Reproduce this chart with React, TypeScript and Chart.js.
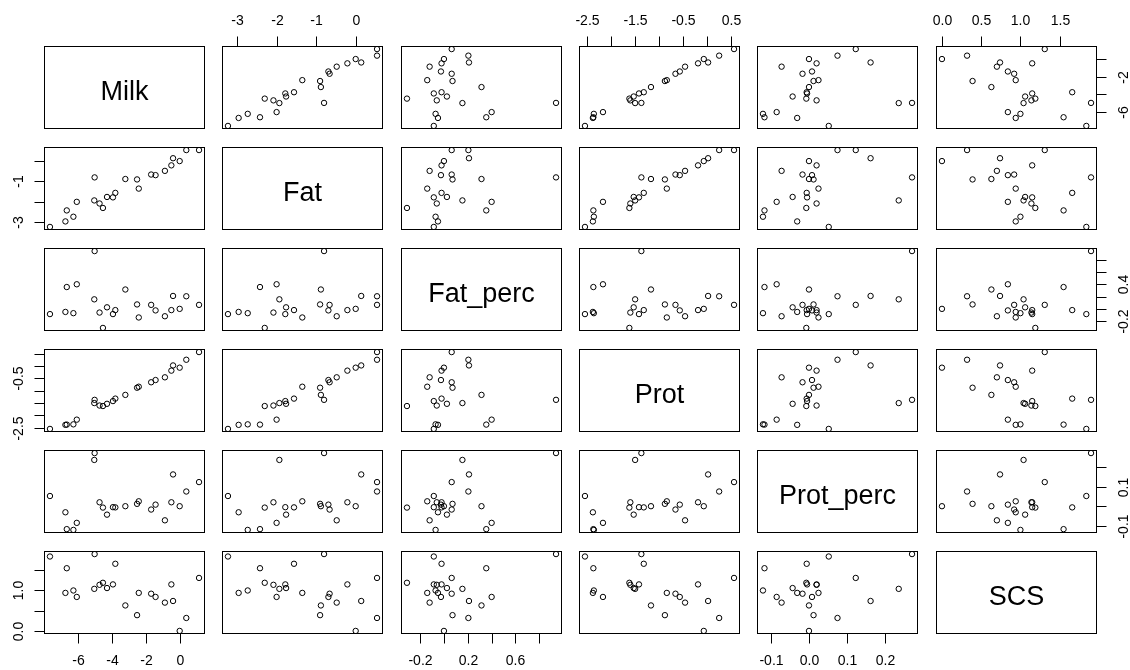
import React, { useEffect, useRef } from "react";
import { Chart, registerables } from "chart.js";

Chart.register(...registerables);

// ---- data (23 observations) ----
const varNames = ["Milk", "Fat", "Fat_perc", "Prot", "Prot_perc", "SCS"];

const milk = [-7.64, -5.01, -3.79, -6.65, 1.14, -6.73, -6.26, -6.06, -5.03, -4.72, -4.52, -4.28, -3.93, -3.2, -2.41, -2.51, -1.68, -1.42, -0.87, -0.49, -0.39, 0.39, 0.0];
const fat = [-3.23, -0.8, -1.56, -2.42, 0.54, -2.96, -2.73, -2.0, -1.93, -2.08, -2.3, -1.76, -1.78, -0.88, -1.35, -0.9, -0.66, -0.69, -0.48, -0.21, 0.14, 0.54, 0.0];
const fatPerc = [-0.085, 0.94, -0.02, 0.355, 0.065, -0.05, -0.07, 0.4, 0.155, -0.06, -0.31, 0.025, -0.085, 0.315, -0.14, 0.072, 0.065, -0.025, -0.12, -0.02, 0.21, 0.205, 0.0];
const prot = [-2.545, -1.37, -1.32, -2.37, 0.56, -2.38, -2.36, -2.17, -1.5, -1.6, -1.62, -1.53, -1.42, -1.17, -0.84, -0.88, -0.66, -0.57, -0.46, -0.19, 0.02, 0.25, -0.07];
const protPerc = [0.052, 0.271, -0.006, -0.117, 0.123, -0.031, -0.121, -0.085, 0.236, 0.02, -0.007, -0.043, -0.005, 0.0, 0.025, 0.012, -0.017, 0.008, -0.072, 0.02, 0.162, 0.075, 0.0];
const scs = [1.84, 1.9, 1.66, 1.55, 1.31, 0.94, 1.0, 0.84, 1.04, 1.14, 1.19, 1.06, 1.15, 0.63, 0.94, 0.39, 0.92, 0.84, 0.7, 1.15, 0.74, 0.32, 0.0];

// ---- tick values and labels ----
const milkTicks = [-6, -4, -2, 0];
const fatTicks = [-3, -2, -1, 0];
const fatPercTicks = [-0.2, 0, 0.2, 0.4, 0.6, 0.8];
const protTicks = [-2.5, -2, -1.5, -1, -0.5, 0, 0.5];
const protPercTicks = [-0.1, 0, 0.1, 0.2];
const scsTicks = [0, 0.5, 1, 1.5];

// labels on horizontal axes (top / bottom)
const milkLabelsH = ["-6", "-4", "-2", "0"];
const fatLabelsH = ["-3", "-2", "-1", "0"];
const fatPercLabelsH = ["-0.2", "", "0.2", "", "0.6", ""];
const protLabelsH = ["-2.5", "", "-1.5", "", "-0.5", "", "0.5"];
const protPercLabelsH = ["-0.1", "0.0", "0.1", "0.2"];
const scsLabelsH = ["0.0", "0.5", "1.0", "1.5"];

// labels on vertical axes (left / right)
const milkLabelsV = ["-6", "", "-2", ""];
const fatLabelsV = ["-3", "", "-1", ""];
const fatPercLabelsV = ["-0.2", "", "", "0.4", "", ""];
const protLabelsV = ["-2.5", "", "", "", "-0.5", "", ""];
const protPercLabelsV = ["-0.1", "", "0.1", ""];
const scsLabelsV = ["0.0", "", "1.0", ""];

const series = [milk, fat, fatPerc, prot, protPerc, scs];
const ticksAll = [milkTicks, fatTicks, fatPercTicks, protTicks, protPercTicks, scsTicks];
const labelsH = [milkLabelsH, fatLabelsH, fatPercLabelsH, protLabelsH, protPercLabelsH, scsLabelsH];
const labelsV = [milkLabelsV, fatLabelsV, fatPercLabelsV, protLabelsV, protPercLabelsV, scsLabelsV];

// ---- layout ----
const LEFT0 = 44;
const TOP0 = 46;
const STEP_X = 178.3;
const STEP_Y = 101;
const PW = 161;
const PH = 83;
const M = 40;
const TICK = 10;
const FONT_AXIS = '14px "Liberation Sans", Arial, sans-serif';
const FONT_DIAG = '27px "Liberation Sans", Arial, sans-serif';

function lim(arr: number[]): [number, number] {
  const mn = Math.min(...arr);
  const mx = Math.max(...arr);
  const r = mx - mn;
  return [mn - 0.04 * r, mx + 0.04 * r];
}

function Panel({ i, j }: { i: number; j: number }) {
  const ref = useRef<HTMLCanvasElement>(null);
  const left = Math.round(LEFT0 + j * STEP_X);
  const top = Math.round(TOP0 + i * STEP_Y);

  useEffect(() => {
    const xs = series[j];
    const ys = series[i];
    const [xmin, xmax] = lim(xs);
    const [ymin, ymax] = lim(ys);
    const diag = i === j;

    const axisTop = i === 0 && j % 2 === 1;
    const axisBottom = i === 5 && j % 2 === 0;
    const axisLeft = j === 0 && i % 2 === 1;
    const axisRight = j === 5 && i % 2 === 0;

    const framePlugin = {
      id: "frame",
      afterDraw(chart: any) {
        const ctx = chart.ctx as CanvasRenderingContext2D;
        const a = chart.chartArea;
        const L = Math.round(a.left);
        const T = Math.round(a.top);
        const R = Math.round(a.right);
        const B = Math.round(a.bottom);
        ctx.save();
        ctx.strokeStyle = "#000";
        ctx.lineWidth = 1;
        ctx.strokeRect(L + 0.5, T + 0.5, R - L - 1, B - T - 1);

        if (diag) {
          ctx.fillStyle = "#000";
          ctx.font = FONT_DIAG;
          ctx.textAlign = "center";
          ctx.textBaseline = "alphabetic";
          ctx.fillText(varNames[i], (L + R) / 2, (T + B) / 2 + 12);
          ctx.restore();
          return;
        }

        ctx.fillStyle = "#000";
        ctx.font = FONT_AXIS;
        ctx.textAlign = "center";
        ctx.textBaseline = "alphabetic";

        if (axisTop || axisBottom) {
          const sc = chart.scales.x;
          const tv = ticksAll[j];
          const tl = labelsH[j];
          const edge = axisTop ? T : B - 1;
          const dir = axisTop ? -1 : 1;
          tv.forEach((v, k) => {
            const px = Math.round(sc.getPixelForValue(v)) + 0.5;
            ctx.beginPath();
            ctx.moveTo(px, edge + 0.5);
            ctx.lineTo(px, edge + 0.5 + dir * TICK);
            ctx.stroke();
            if (tl[k]) {
              const yb = axisTop ? T - 21 : B + 31;
              ctx.fillText(tl[k], px, yb);
            }
          });
        }
        if (axisLeft || axisRight) {
          const sc = chart.scales.y;
          const tv = ticksAll[i];
          const tl = labelsV[i];
          const edge = axisLeft ? L : R - 1;
          const dir = axisLeft ? -1 : 1;
          tv.forEach((v, k) => {
            const py = Math.round(sc.getPixelForValue(v)) + 0.5;
            ctx.beginPath();
            ctx.moveTo(edge + 0.5, py);
            ctx.lineTo(edge + 0.5 + dir * TICK, py);
            ctx.stroke();
            if (tl[k]) {
              const xb = axisLeft ? L - 21 : R + 31;
              ctx.save();
              ctx.translate(xb, py);
              ctx.rotate(-Math.PI / 2);
              ctx.fillText(tl[k], 0, 0);
              ctx.restore();
            }
          });
        }
        ctx.restore();
      },
    };

    const chart = new Chart(ref.current as HTMLCanvasElement, {
      type: "scatter",
      data: {
        datasets: diag
          ? []
          : [
              {
                data: xs.map((x, k) => ({ x, y: ys[k] })),
                pointRadius: 2.7,
                pointHoverRadius: 2.7,
                pointBorderWidth: 1,
                borderColor: "#000",
                backgroundColor: "rgba(0,0,0,0)",
                pointStyle: "circle",
              },
            ],
      },
      options: {
        animation: false,
        responsive: false,
        maintainAspectRatio: false,
        devicePixelRatio: 1,
        events: [],
        layout: { padding: M },
        plugins: { legend: { display: false }, tooltip: { enabled: false } },
        scales: {
          x: { type: "linear", display: false, min: xmin, max: xmax },
          y: { type: "linear", display: false, min: ymin, max: ymax },
        },
      },
      plugins: [framePlugin],
    } as any);
    return () => chart.destroy();
  }, [i, j]);

  return (
    <canvas
      ref={ref}
      width={PW + 2 * M}
      height={PH + 2 * M}
      style={{
        position: "absolute",
        left: left - M,
        top: top - M,
        width: PW + 2 * M,
        height: PH + 2 * M,
      }}
    />
  );
}

export default function App() {
  const cells: React.ReactNode[] = [];
  for (let i = 0; i < 6; i++) {
    for (let j = 0; j < 6; j++) {
      cells.push(<Panel key={`${i}-${j}`} i={i} j={j} />);
    }
  }
  return (
    <div
      style={{
        position: "absolute",
        left: 0,
        top: 0,
        width: 1130,
        height: 670,
        background: "#fff",
        overflow: "hidden",
      }}
    >
      {cells}
    </div>
  );
}
